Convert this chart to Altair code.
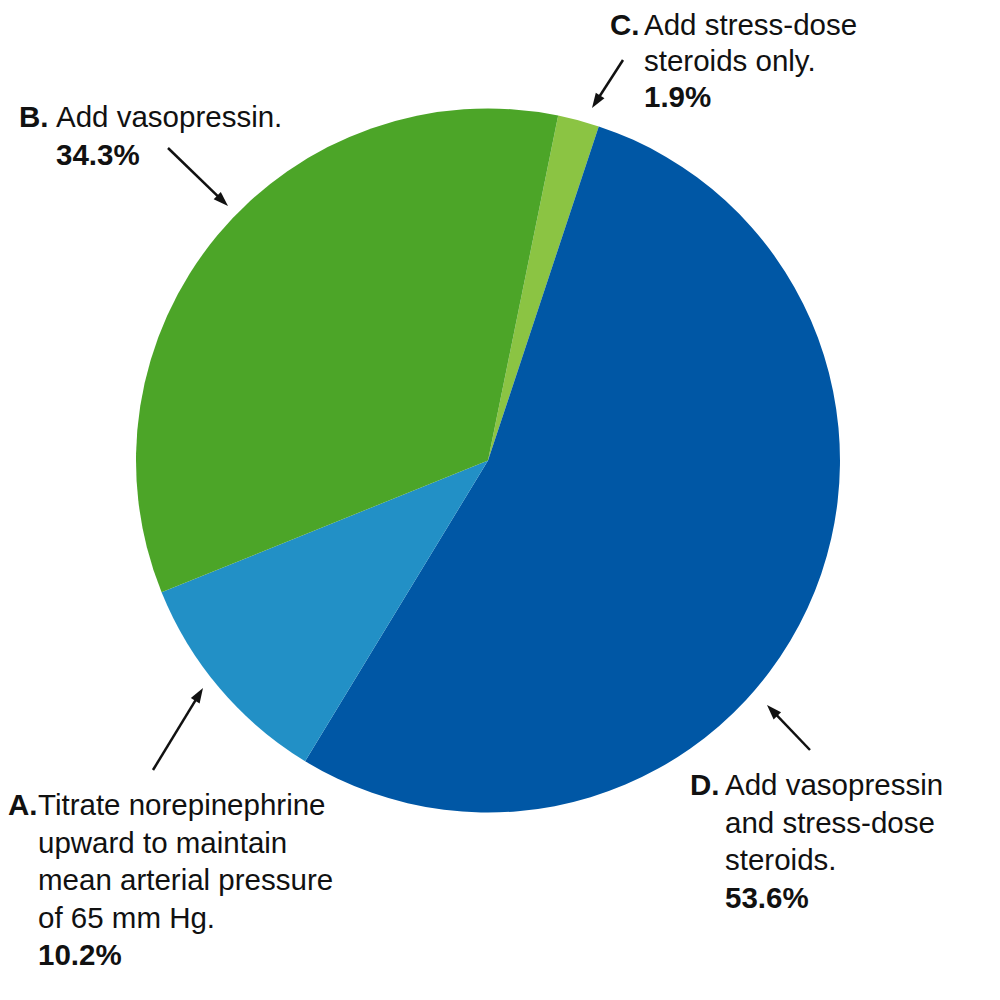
import math
import altair as alt
import pandas as pd

# ---- data ----
letters = ["C", "D", "A", "B"]            # clockwise order of slices
shares = [1.9, 53.6, 10.2, 34.3]          # percent
descriptions = [
    ["Add stress-dose", "steroids only."],
    ["Add vasopressin", "and stress-dose", "steroids."],
    ["Titrate norepinephrine", "upward to maintain", "mean arterial pressure", "of 65 mm Hg."],
    ["Add vasopressin."],
]
pct_labels = ["1.9%", "53.6%", "10.2%", "34.3%"]
slice_colors = ["#8BC443", "#0057A5", "#2290C6", "#4CA528"]

# ---- layout (plot coordinates = page - 8) ----
W, H = 984, 984
CX, CY, R = 480, 452.5, 352
START = math.radians(11.5)
FONT = "Liberation Sans"
FS = 29.5

# label anchors: (x of bold letter, x of text, baseline of first line, line spacing)
anchors = {
    "C": (602, 636, 27, 36),
    "D": (682, 717, 787, 37.5),
    "A": (0, 30, 807, 37.5),
    "B": (11, 48, 119, 37.5),
}
# arrows: tail -> head
arrows = {
    "A": ((145, 762), (195, 680)),
    "B": ((160, 140), (220, 198)),
    "C": ((615, 52), (584, 100)),
    "D": ((802, 742), (759, 697)),
}

pie_df = pd.DataFrame({
    "letter": letters,
    "share": shares,
    "order": list(range(len(letters))),
})

rows = []
for i, L in enumerate(letters):
    bx, tx, y0, sp = anchors[L]
    rows.append({"x": bx, "y": y0, "text": L + ".", "bold": True})
    lines = descriptions[i]
    for j, t in enumerate(lines):
        rows.append({"x": tx, "y": y0 + j * sp, "text": t, "bold": False})
    rows.append({"x": tx, "y": y0 + len(lines) * sp, "text": pct_labels[i], "bold": True})
text_df = pd.DataFrame(rows)

arr_rows = []
for L in letters:
    (x1, y1), (x2, y2) = arrows[L]
    dx, dy = x2 - x1, y2 - y1
    d = math.hypot(dx, dy)
    ang = math.degrees(math.atan2(dx, -dy)) % 360
    arr_rows.append({
        "x": x1, "y": y1,
        "x2": x2 - dx / d * 6, "y2": y2 - dy / d * 6,
        "hx": x2, "hy": y2, "angle": ang,
    })
arr_df = pd.DataFrame(arr_rows)

pie = alt.Chart(pie_df).mark_arc(outerRadius=R, stroke=None).encode(
    theta=alt.Theta("share:Q", stack=True,
                    scale=alt.Scale(range=[START, START + 2 * math.pi])),
    color=alt.Color("letter:N", scale=alt.Scale(domain=letters, range=slice_colors), legend=None),
    order=alt.Order("order:Q"),
    x=alt.value(CX),
    y=alt.value(CY),
)

xs = alt.X("x:Q", scale=None, axis=None)
ys = alt.Y("y:Q", scale=None, axis=None)

txt_normal = alt.Chart(text_df).transform_filter("!datum.bold").mark_text(
    align="left", baseline="alphabetic", font=FONT, fontSize=FS, color="#111111"
).encode(x=xs, y=ys, text="text:N")

txt_bold = alt.Chart(text_df).transform_filter("datum.bold").mark_text(
    align="left", baseline="alphabetic", font=FONT, fontSize=FS, fontWeight="bold", color="#111111"
).encode(x=xs, y=ys, text="text:N")

lines = alt.Chart(arr_df).mark_rule(strokeWidth=2.5, color="#111111").encode(
    x=xs, y=ys, x2="x2:Q", y2="y2:Q"
)

heads = alt.Chart(arr_df).mark_point(
    shape="M0,0L0.55,1.6L-0.55,1.6Z", filled=True, size=350, color="#111111", opacity=1
).encode(
    x=alt.X("hx:Q", scale=None, axis=None),
    y=alt.Y("hy:Q", scale=None, axis=None),
    angle=alt.Angle("angle:Q", scale=None),
)

chart = alt.layer(pie, lines, heads, txt_normal, txt_bold).properties(
    width=W, height=H, padding=0, autosize=alt.AutoSizeParams(type="none")
).configure_view(stroke=None)

chart.save("out.html", embed_options={"renderer": "svg", "actions": False})
